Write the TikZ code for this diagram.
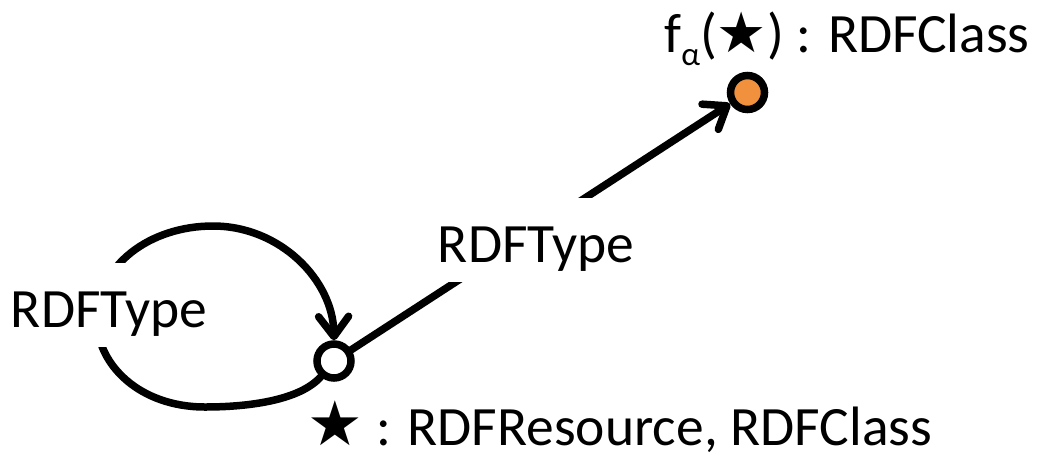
\documentclass[tikz,border=0pt]{standalone}
\usepackage{fontspec}
\setmainfont{Carlito}
\newfontfamily\symfont{DejaVu Sans}
\usetikzlibrary{arrows.meta}
\definecolor{nodeorange}{RGB}{241,145,62}
\tikzset{
  vtx/.style={circle, draw=black, line width=7.5pt, minimum size=34pt, inner sep=0pt},
  edge/.style={line width=7.5pt, line cap=round, -{Straight Barb[length=20pt,width=30pt,line cap=round,line join=round]}},
  lbl/.style={font=\fontsize{55.5}{62}\selectfont, inner sep=0pt},
  elbl/.style={lbl, fill=white, text height=64pt, text depth=20pt, anchor=base}
}
\newcommand{\bstar}[1]{{\fontsize{#1}{#1}\symfont ★}}
\begin{document}
\begin{tikzpicture}[x=1pt,y=-1pt]
\useasboundingbox (0,0) rectangle (1042,459);
\node[vtx, fill=white] (w) at (334,361) {};
\node[vtx, fill=nodeorange] (o) at (747.5,92.5) {};
\draw[edge] (w) -- (o);
\draw[edge] (w.230) .. controls (300,400) and (250,407) .. (205,407)
  .. controls (140,407) and (97,365) .. (97,320)
  .. controls (97,265) and (150,226) .. (213,226)
  .. controls (280,226) and (333,280) .. (w.north);
\node[elbl] (l1) at (536,262) {RDFType};
\node[elbl] (l2) at (109,327) {RDFType};
\node[lbl, anchor=base] (t1) at (847,52) {f\raisebox{-13pt}{\fontsize{33}{36}\selectfont α}(\bstar{56}) : RDFClass};
\node[lbl, anchor=base] (t2) at (620,445) {\bstar{62} : RDFResource, RDFClass};
\end{tikzpicture}
\end{document}
